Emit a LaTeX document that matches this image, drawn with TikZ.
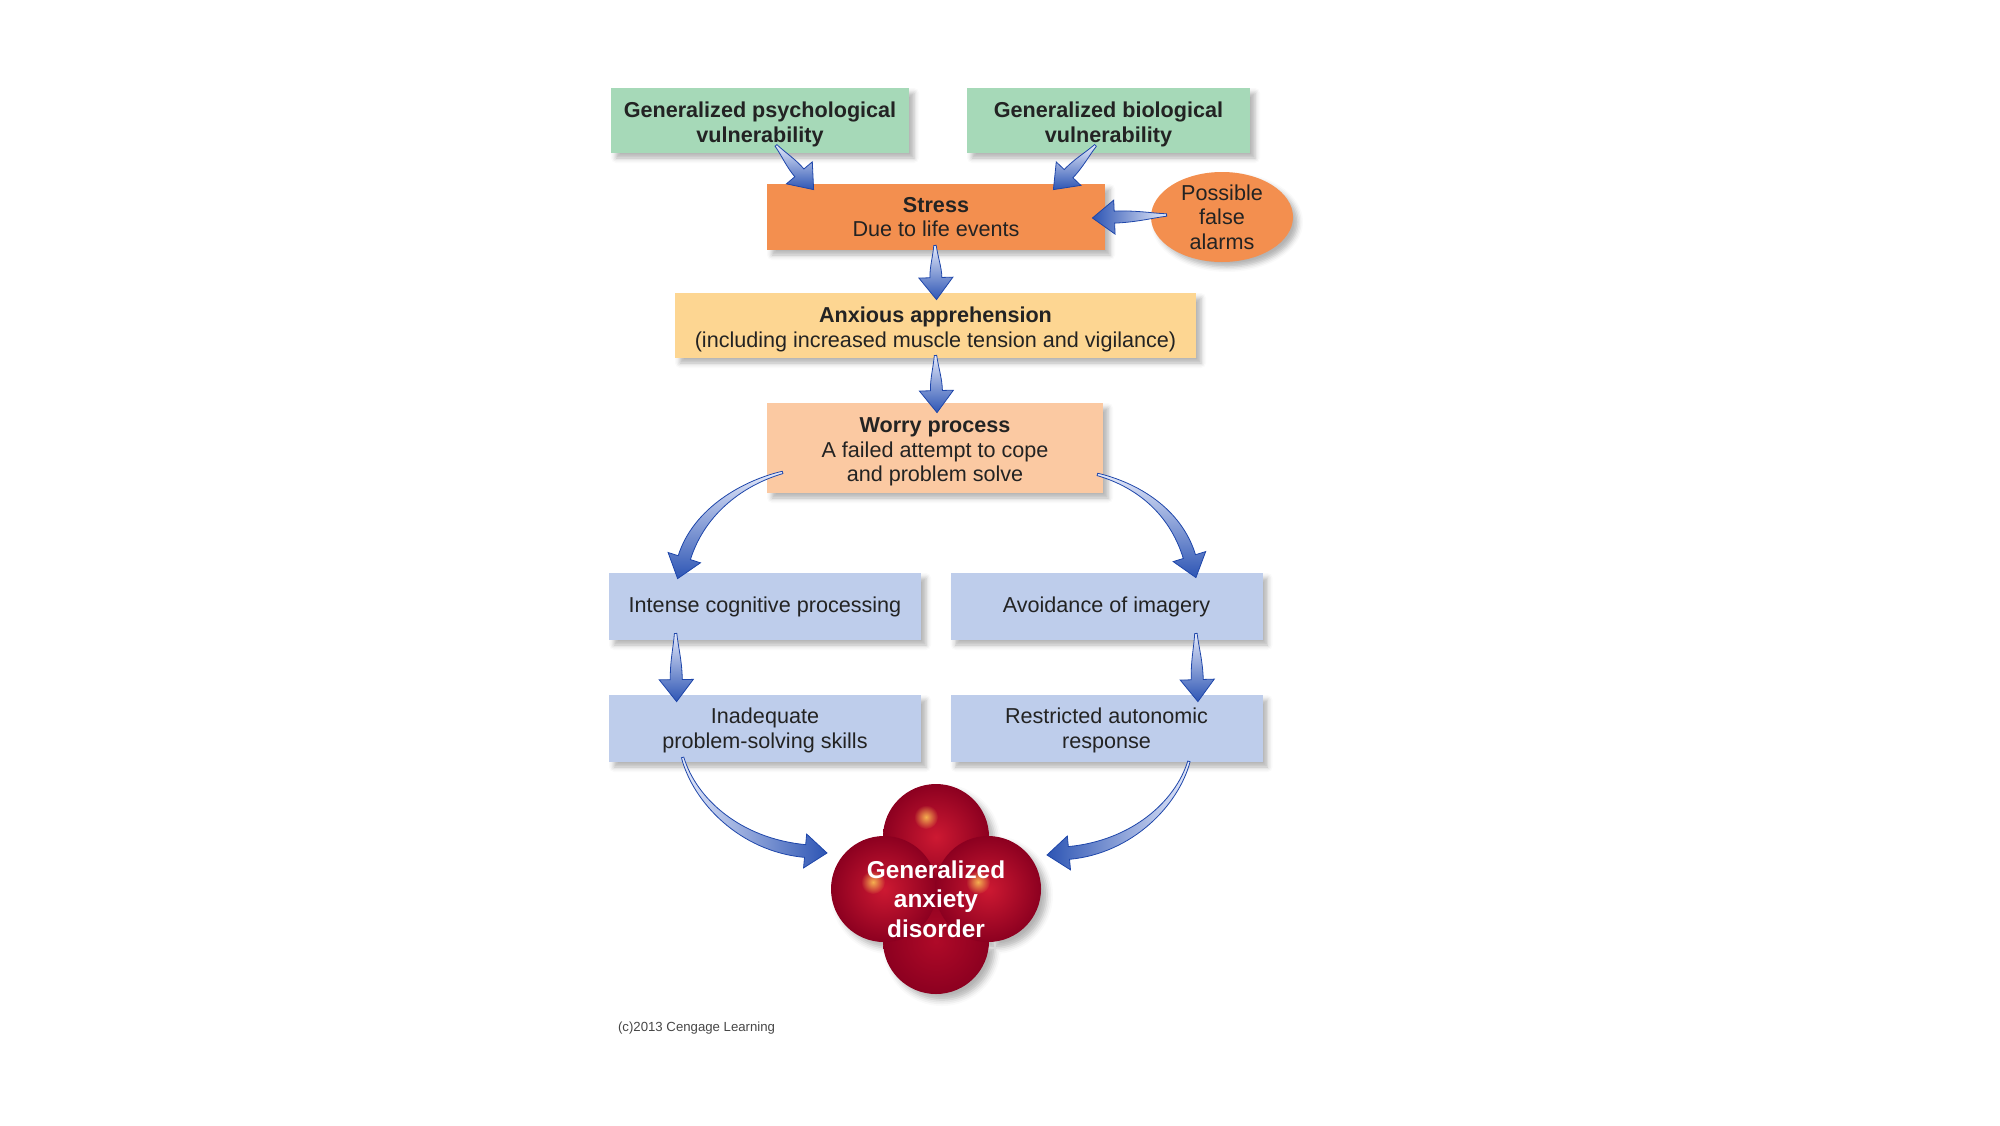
\documentclass[tikz,border=0pt]{standalone}
\usepackage{fontspec}
\setmainfont{Liberation Sans}
\usetikzlibrary{calc,shapes.geometric,shadows.blur,fadings}
\definecolor{greenbox}{RGB}{166,217,184}
\definecolor{stressor}{RGB}{243,143,79}
\definecolor{anxbox}{RGB}{253,214,146}
\definecolor{worrybox}{RGB}{251,201,162}
\definecolor{bluebox}{RGB}{190,205,235}
\definecolor{arrowblue}{RGB}{45,85,180}
\definecolor{arrowlight}{RGB}{228,233,250}
\definecolor{arrowedge}{RGB}{30,70,170}
\definecolor{txt}{RGB}{35,35,35}
\definecolor{copytxt}{RGB}{70,70,70}
\definecolor{gadin}{RGB}{205,25,50}
\definecolor{gadout}{RGB}{140,0,32}
\definecolor{gadinb}{RGB}{175,10,40}
\definecolor{spot}{RGB}{245,175,80}
\tikzfading[name=spotfade, inner color=transparent!0, outer color=transparent!100]
\newcommand\fahl{11pt}
\newcommand\fahw{8.5pt}
% #1 style, #2 tail, #3 ctrl1, #4 ctrl2, #5 tip, #6 neck half width
\newcommand\fatarrow[6]{%
  \coordinate (fa-N) at ($(#5)!\fahl!(#4)$);
  \shade[#1] ($(#2)!0.6pt!90:(#3)$) .. controls ($(#3)!1.2pt!90:(#4)$) and ($(#4)!#6!90:(fa-N)$) .. ($(fa-N)!#6!90:(#5)$)
    -- ($(fa-N)!\fahw!90:(#5)$) -- (#5) -- ($(fa-N)!\fahw!-90:(#5)$) -- ($(fa-N)!#6!-90:(#5)$)
    .. controls ($(#4)!#6!-90:(fa-N)$) and ($(#3)!1.2pt!-90:(#4)$) .. ($(#2)!0.6pt!-90:(#3)$) -- cycle;
}
\newcommand\straightfat[3]{%
  \coordinate (sa-C1) at ($(#2)!0.2!(#3)$);
  \coordinate (sa-C2) at ($(#2)!0.4!(#3)$);
  \fatarrow{#1}{#2}{sa-C1}{sa-C2}{#3}{3pt}%
}
\begin{document}
\begin{tikzpicture}[x=0.5pt,y=-0.5pt,
  softshadow/.style={blur shadow={shadow xshift=2.5pt,shadow yshift=-2.5pt,shadow blur radius=2.5pt,shadow opacity=30}},
  box/.style={rectangle,inner sep=2pt,align=center,text=txt,font=\fontsize{10.8}{12.1}\selectfont,softshadow},
  boxtext/.style={align=center,text=txt,font=\fontsize{10.8}{12.1}\selectfont,inner sep=0pt},
  greenb/.style={box,fill=greenbox,minimum height=32.5pt},
  blueb/.style={box,fill=bluebox,minimum width=156pt,minimum height=33.5pt},
  arrowV/.style={top color=arrowlight,bottom color=arrowblue,draw=arrowedge,line width=0.4pt},
  arrowL/.style={left color=arrowblue,right color=arrowlight,draw=arrowedge,line width=0.4pt},
  arrowR/.style={left color=arrowlight,right color=arrowblue,draw=arrowedge,line width=0.4pt},
  gadball/.style={inner color=gadin,outer color=gadout},
  spotstyle/.style={fill=spot,path fading=spotfade},
]
\useasboundingbox (0,0) rectangle (2000,1125);

% boxes
\node[greenb,minimum width=149pt] (psych) at (760,120.5) {};
\node[boxtext] (psychtext) at ($(psych)+(0,4)$) {\textbf{Generalized psychological}\\\textbf{vulnerability}};
\node[greenb,minimum width=141.5pt] (bio) at (1108.5,120.5) {};
\node[boxtext] (biotext) at ($(bio)+(0,4)$) {\textbf{Generalized biological}\\\textbf{vulnerability}};
\node[box,fill=stressor,minimum width=169pt,minimum height=33pt] (stress) at (936,217) {\textbf{Stress}\\Due to life events};
\node[ellipse,fill=stressor,minimum width=71pt,minimum height=45pt,inner sep=0pt,softshadow] (alarms) at (1222,217) {};
\node[align=center,text=txt,font=\fontsize{10.8}{12.3}\selectfont] (alarmstext) at (alarms) {Possible\\false\\alarms};
\node[box,fill=anxbox,minimum width=260.5pt,minimum height=32.5pt] (anxious) at (935.5,325.5) {};
\node[boxtext] (anxioustext) at ($(anxious)+(0,4)$) {\textbf{Anxious apprehension}\\(including increased muscle tension and vigilance)};
\node[box,fill=worrybox,minimum width=168pt,minimum height=45pt] (worry) at (935,448) {};
\node[boxtext] (worrytext) at ($(worry)+(0,4)$) {\textbf{Worry process}\\A failed attempt to cope\\and problem solve};
\node[blueb] (intense) at (765,606.5) {Intense cognitive processing};
\node[blueb] (avoid) at (1106.5,606.5) {Avoidance of imagery};
\node[blueb] (inadequate) at (765,728.5) {};
\node[boxtext] (inadequatetext) at ($(inadequate)+(0,2)$) {Inadequate\\problem-solving skills};
\node[blueb] (restricted) at (1106.5,728.5) {};
\node[boxtext] (restrictedtext) at ($(restricted)+(0,2)$) {Restricted autonomic\\response};

% GAD blob
\coordinate (gadc) at (936,889);
\path[blur shadow={shadow xshift=3pt,shadow yshift=-3pt,shadow blur radius=3pt,shadow opacity=30}]
  ($(gadc)+(0,-52)$) circle (53) ($(gadc)+(0,52)$) circle (53) ($(gadc)+(-52,0)$) circle (53) ($(gadc)+(52,0)$) circle (53);
\shade[gadball] ($(gadc)+(0,-52)$) circle (53);
\shade[inner color=gadinb,outer color=gadout] ($(gadc)+(0,52)$) circle (53);
\shade[gadball] ($(gadc)+(-52,0)$) circle (53);
\shade[gadball] ($(gadc)+(52,0)$) circle (53);
\fill[spotstyle] ($(gadc)+(-10,-72)$) circle (12);
\fill[spotstyle] ($(gadc)+(-63,-7)$) circle (12);
\fill[spotstyle] ($(gadc)+(42,-7)$) circle (12);
\node[text=white,align=center,font=\bfseries\fontsize{12.2}{14.7}\selectfont] (gad) at ($(gadc)+(0,10)$) {Generalized\\anxiety\\disorder};

% arrows
\coordinate (t1) at ($(psych.south)+(16,-8)$);
\coordinate (p1) at ($(stress.north west)+(47,6)$);
\straightfat{arrowV}{t1}{p1}
\coordinate (t2) at ($(bio.south)+(-13,-8)$);
\coordinate (p2) at ($(stress.north east)+(-52,6)$);
\straightfat{arrowV}{t2}{p2}
\coordinate (t3) at ($(alarms.west)+(16,-2)$);
\coordinate (p3) at ($(stress.east)+(-13,1)$);
\straightfat{arrowL}{t3}{p3}
\coordinate (t4) at ($(stress.south)+(-1,-5)$);
\coordinate (p4) at ($(anxious.north)+(1,7)$);
\straightfat{arrowV}{t4}{p4}
\coordinate (t4b) at ($(anxious.south)+(0,-3)$);
\coordinate (p4b) at ($(worry.north)+(2,10)$);
\straightfat{arrowV}{t4b}{p4b}

\coordinate (t5) at ($(worry.south west)+(16,-21)$);
\coordinate (p5) at ($(intense.north west)+(69,6)$);
\coordinate (c5a) at ($(t5)+(-38,10)$);
\coordinate (c5b) at ($(p5)+(22,-69)$);
\fatarrow{arrowV}{t5}{c5a}{c5b}{p5}{3.2pt}
\coordinate (t6) at ($(worry.south east)+(-6,-19)$);
\coordinate (p6) at ($(avoid.north east)+(-67,5)$);
\coordinate (c6a) at ($(t6)+(38,10)$);
\coordinate (c6b) at ($(p6)+(-21,-68)$);
\fatarrow{arrowV}{t6}{c6a}{c6b}{p6}{3.2pt}

\coordinate (t9) at ($(intense.south west)+(67,-7)$);
\coordinate (p9) at ($(inadequate.north west)+(68,7)$);
\straightfat{arrowV}{t9}{p9}
\coordinate (t10) at ($(avoid.south east)+(-67,-7)$);
\coordinate (p10) at ($(restricted.north east)+(-65,7)$);
\straightfat{arrowV}{t10}{p10}

\coordinate (t7) at ($(inadequate.south west)+(74,-5)$);
\coordinate (p7) at ($(gadc)+(-109,-36)$);
\coordinate (c7a) at ($(t7)+(12,43)$);
\coordinate (c7b) at ($(p7)+(-87,-8)$);
\fatarrow{arrowR}{t7}{c7a}{c7b}{p7}{3.2pt}
\coordinate (t8) at ($(restricted.south east)+(-74,-1)$);
\coordinate (p8) at ($(gadc)+(111,-34)$);
\coordinate (c8a) at ($(t8)+(-12,42)$);
\coordinate (c8b) at ($(p8)+(85,-8)$);
\fatarrow{arrowL}{t8}{c8a}{c8b}{p8}{3.2pt}

\node[anchor=west,text=copytxt,font=\fontsize{6.6}{7}\selectfont] (copy) at (611,1028) {(c)2013 Cengage Learning};
\end{tikzpicture}
\end{document}
